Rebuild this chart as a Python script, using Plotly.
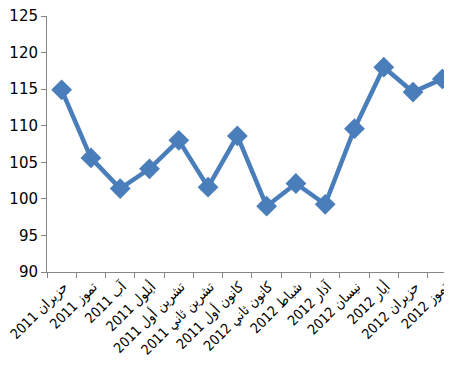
import plotly.graph_objects as go

months = ["2011 حزيران", "2011 تموز", "2011 آب", "2011 أيلول", "2011 تشرين أول",
          "2011 تشرين ثاني", "2011 كانون أول", "2012 كانون ثاني", "2012 شباط",
          "2012 آذار", "2012 نيسان", "2012 أيار", "2012 حزيران", "2012 تموز"]
values = [114.9, 105.6, 101.4, 104.1, 108.0, 101.6, 108.6, 99.0, 102.1, 99.25,
          109.6, 118.0, 114.6, 116.4]
y_ticks = [90, 95, 100, 105, 110, 115, 120, 125]

color = "#4A7EBB"

fig = go.Figure(go.Scatter(
    x=months, y=values, mode="lines+markers",
    line=dict(color=color, width=4.5),
    marker=dict(symbol="diamond", size=16, color=color),
    cliponaxis=False,
))

# page body has an 8px default margin; size the figure to fit the window
fig.update_layout(
    width=444, height=367,
    margin=dict(l=39, r=0, t=8, b=103),
    paper_bgcolor="white", plot_bgcolor="white",
    showlegend=False,
    font=dict(family="DejaVu Sans, sans-serif", color="black"),
)
fig.update_xaxes(
    type="category", range=[-0.5, 13.33], automargin=False,
    tickson="boundaries", ticks="outside", ticklen=5, tickcolor="#868686",
    showline=True, linecolor="#868686", linewidth=1,
    showgrid=False, tickangle=-45, ticklabelshift=2,
    tickfont=dict(size=14, family="DejaVu Sans Condensed, DejaVu Sans, sans-serif"),
)
fig.update_yaxes(
    range=[90, 125], tickvals=y_ticks, automargin=False,
    ticklabeloverflow="allow",
    ticks="outside", ticklen=5, tickcolor="#868686",
    showline=True, linecolor="#868686", linewidth=1,
    showgrid=False, zeroline=False,
    tickfont=dict(size=15, family="DejaVu Sans, sans-serif"),
)

fig.write_html("out.html")
